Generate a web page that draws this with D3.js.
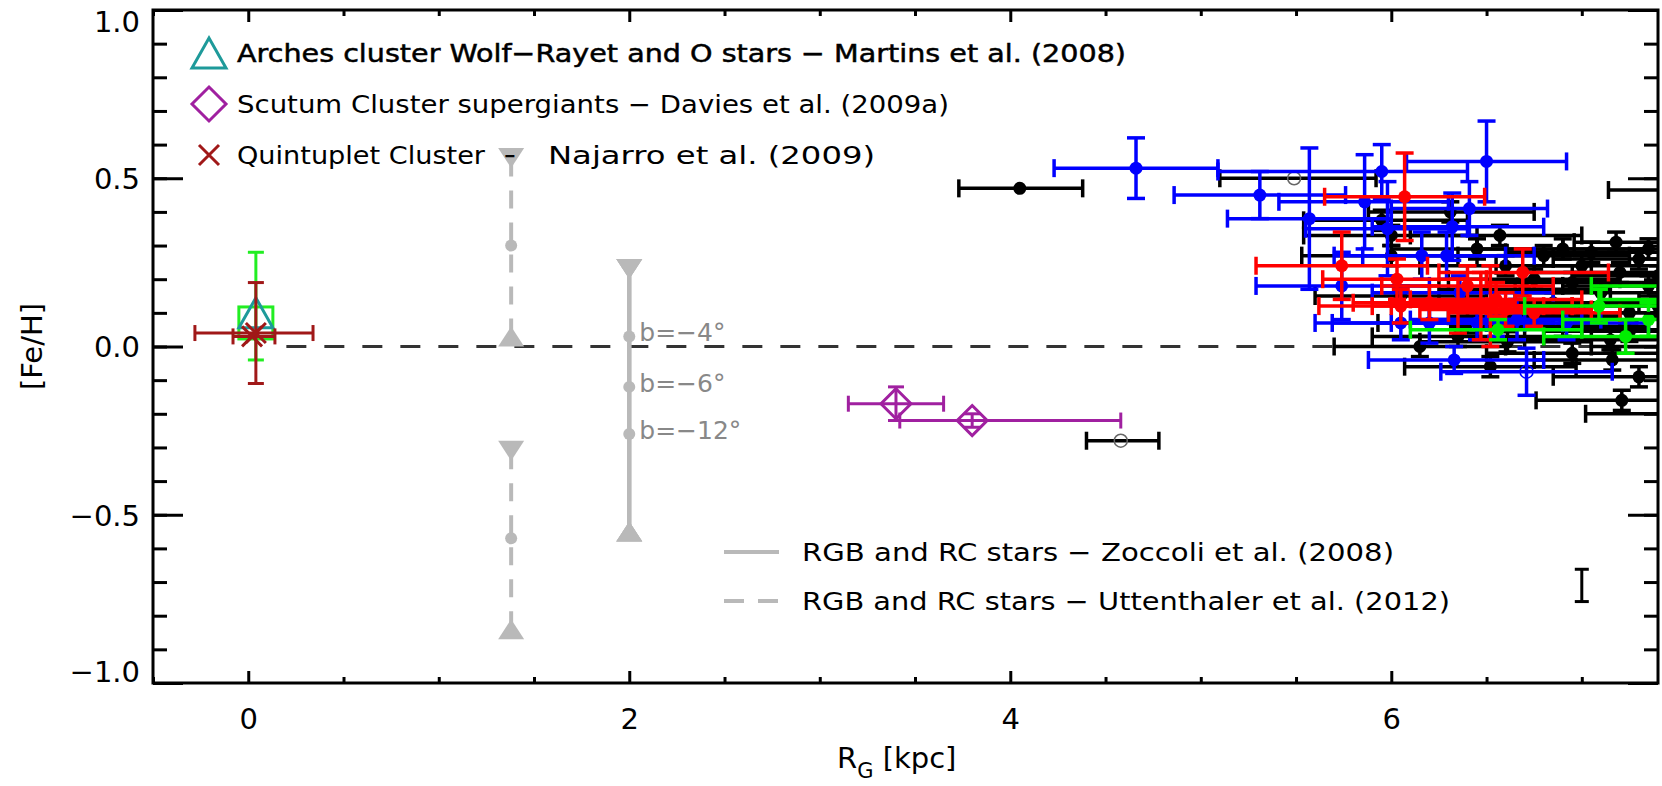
<!DOCTYPE html>
<html>
<head>
<meta charset="utf-8">
<script src="https://cdn.jsdelivr.net/npm/d3@7"></script>
<style>
body { margin: 0; background: #fff; }
svg text { font-family: "DejaVu Sans", "Liberation Sans", sans-serif; }
</style>
</head>
<body>
<div id="chart"></div>
<script>
const width = 1662, height = 786

// ---- data: [R_G, [Fe/H], R low, R high, +/- [Fe/H]] ----
const blackFilled = [
  [4.05, 0.47, 3.73, 4.38, 0],
  [6.31, 0.40, 5.88, 6.75, 0.03],
  [5.95, 0.375, 5.54, 6.40, 0.03],
  [6.00, 0.33, 5.54, 6.45, 0.03],
  [6.57, 0.33, 6.10, 7.00, 0.03],
  [7.18, 0.31, 6.96, 7.45, 0.03],
  [7.60, 0.465, 7.14, 8.00, 0.03],
  [6.00, 0.27, 5.53, 6.45, 0.03],
  [6.45, 0.29, 6.00, 6.90, 0.03],
  [6.90, 0.29, 6.45, 7.35, 0.03],
  [7.35, 0.29, 6.90, 7.80, 0.03],
  [7.05, 0.28, 6.60, 7.50, 0.03],
  [6.80, 0.27, 6.35, 7.25, 0.03],
  [7.30, 0.26, 6.85, 7.75, 0.03],
  [6.60, 0.24, 6.15, 7.05, 0.03],
  [7.00, 0.24, 6.55, 7.45, 0.03],
  [7.20, 0.22, 6.75, 7.65, 0.03],
  [7.40, 0.21, 6.95, 7.85, 0.03],
  [6.75, 0.20, 6.30, 7.20, 0.03],
  [6.95, 0.19, 6.50, 7.40, 0.03],
  [7.35, 0.18, 6.90, 7.80, 0.03],
  [6.70, 0.17, 6.25, 7.15, 0.03],
  [7.10, 0.16, 6.65, 7.55, 0.03],
  [6.05, 0.15, 5.60, 6.50, 0.03],
  [6.85, 0.13, 6.40, 7.30, 0.03],
  [7.40, 0.12, 6.95, 7.85, 0.03],
  [7.25, 0.10, 6.80, 7.70, 0.03],
  [7.00, 0.10, 6.55, 7.45, 0.03],
  [6.75, 0.09, 6.30, 7.20, 0.03],
  [6.40, 0.07, 5.93, 6.85, 0.03],
  [6.90, 0.06, 6.45, 7.35, 0.03],
  [7.45, 0.05, 7.00, 7.90, 0.03],
  [7.25, 0.045, 6.80, 7.70, 0.03],
  [6.35, 0.03, 5.90, 6.80, 0.03],
  [7.15, 0.02, 6.70, 7.60, 0.03],
  [6.61, 0.014, 6.15, 7.05, 0.03],
  [6.15, 0.00, 5.70, 6.60, 0.03],
  [7.50, 0.00, 7.05, 7.95, 0.03],
  [6.95, -0.02, 6.50, 7.40, 0.03],
  [7.16, -0.04, 6.75, 7.60, 0.03],
  [6.52, -0.06, 6.07, 6.97, 0.03],
  [7.30, -0.09, 6.85, 7.75, 0.03],
  [7.21, -0.16, 6.76, 7.65, 0.03],
  [7.50, -0.20, 7.02, 8.00, 0.03]
]
const blackOpen = [
  [5.49, 0.50, 5.10, 5.92, 0],
  [4.58, -0.28, 4.40, 4.78, 0]
]
const blueFilled = [
  [4.66, 0.53, 4.23, 5.09, 0.09],
  [5.31, 0.45, 4.86, 5.76, 0.07],
  [5.57, 0.38, 5.14, 6.00, 0.21],
  [5.95, 0.52, 5.09, 6.40, 0.08],
  [5.86, 0.43, 5.41, 6.30, 0.14],
  [5.98, 0.35, 5.55, 6.40, 0.14],
  [6.50, 0.55, 6.08, 6.92, 0.12],
  [6.41, 0.41, 6.00, 6.82, 0.08],
  [6.32, 0.356, 5.90, 6.80, 0.10],
  [6.16, 0.27, 5.70, 6.60, 0.07],
  [6.29, 0.27, 5.85, 6.75, 0.07],
  [5.74, 0.18, 5.29, 6.20, 0.10],
  [6.36, 0.16, 5.90, 6.85, 0.05],
  [6.05, 0.07, 5.60, 6.50, 0.05],
  [6.20, 0.07, 5.69, 6.70, 0.06],
  [6.45, 0.07, 6.00, 6.90, 0.05],
  [6.55, 0.08, 6.10, 7.00, 0.05],
  [6.66, 0.08, 6.20, 7.10, 0.06],
  [6.92, 0.07, 6.50, 7.35, 0.05],
  [6.33, -0.04, 5.88, 6.80, 0.04]
]
const blueOpen = [
  [6.71, -0.075, 6.26, 7.16, 0.07]
]
const redFilled = [
  [6.07, 0.445, 5.65, 6.49, 0.13],
  [5.74, 0.24, 5.29, 6.19, 0.10],
  [6.03, 0.20, 5.64, 6.50, 0.06],
  [6.69, 0.22, 6.25, 7.14, 0.07],
  [6.40, 0.18, 5.95, 6.85, 0.06],
  [6.55, 0.14, 6.10, 7.00, 0.05],
  [6.20, 0.13, 5.80, 6.65, 0.05],
  [6.47, 0.12, 6.00, 6.95, 0.10],
  [6.52, 0.12, 6.05, 6.95, 0.12],
  [6.05, 0.12, 5.62, 6.50, 0.05],
  [6.35, 0.12, 5.90, 6.80, 0.08],
  [6.60, 0.11, 6.15, 7.05, 0.05],
  [6.75, 0.10, 6.30, 7.20, 0.04]
]
const greenFilled = [
  [7.09, 0.12, 6.70, 7.50, 0.05],
  [7.23, 0.03, 6.80, 7.70, 0.05],
  [7.35, 0.08, 6.90, 7.80, 0.05],
  [7.60, 0.18, 7.05, 8.10, 0.03],
  [7.55, 0.14, 7.10, 8.00, 0.03],
  [6.56, 0.05, 6.10, 7.00, 0.03]
]
// Galactic centre clusters
const gcGreen = [[0.04, 0.07, -0.04, 0.28]]     // square, [Fe/H] range
const arches = [[0.04, 0.10]]
const quintuplet = [[0.04, 0.04, -0.28, 0.34, -0.11, 0.19], [0.02, 0.03, -0.08, 0.14, 0, 0]]
const scutum = [[3.40, -0.17, 3.15, 3.65, 0.05], [3.80, -0.22, 3.42, 4.58, 0.02]]
// bulge fields: [R_G, lower limit, mean, upper limit]
const zoccoli = [[2.0, -0.55, 0.03, 0.23], [2.0, -0.55, -0.12, 0.23], [2.0, -0.55, -0.26, 0.23]]
const zoccoliLabels = ["b=−4°", "b=−6°", "b=−12°"]
const uttenthaler = [[1.38, 0.03, 0.30, 0.56], [1.38, -0.84, -0.57, -0.31]]
const typicalError = [[7.0, -0.71, 0.048]]

const xMajor = [0, 2, 4, 6]
const xMinor = [-0.5, 0.5, 1, 1.5, 2.5, 3, 3.5, 4.5, 5, 5.5, 6.5, 7]
const yMajor = [-1, -0.5, 0, 0.5, 1]
const yMinor = d3.range(-10, 11).map(d => d / 10)

// legend pieces: [text, start x, width]
const legendTop = [
  [["Arches cluster Wolf−Rayet and O stars − Martins et al. (2008)", 237, 889]],
  [["Scutum Cluster supergiants − Davies et al. (2009a)", 237, 712]],
  [["Quintuplet Cluster", 237, 248], ["−", 504, 12], ["Najarro et al. (2009)", 548, 327]]
]
const legendBottom = [
  {label: "RGB and RC stars − Zoccoli et al. (2008)", w: 592, dash: null},
  {label: "RGB and RC stars − Uttenthaler et al. (2012)", w: 648, dash: "20,14"}
]

const x = d3.scaleLinear().domain([-0.5, 7.4]).range([153, 1658])
const y = d3.scaleLinear().domain([-1, 1]).range([683, 10])

const svg = d3.select("#chart").append("svg")
  .attr("width", width).attr("height", height)

svg.append("defs").append("clipPath").attr("id", "plotclip")
  .append("rect").attr("x", x(-0.5)).attr("y", y(1))
  .attr("width", x(7.4) - x(-0.5)).attr("height", y(-1) - y(1))

const plot = svg.append("g").attr("clip-path", "url(#plotclip)")

const gray = "#b9b9b9"

function triPath(cx, cy, w, h, down) {
  const s = down ? -1 : 1
  return `M${cx - w / 2},${cy + s * h / 2}L${cx + w / 2},${cy + s * h / 2}L${cx},${cy - s * h / 2}Z`
}

// legend text first, the bulge markers sit on top of it
const lg = svg.append("g")
legendTop.forEach((pieces, i) => {
  const cy = 53 + i * 51
  pieces.forEach(p => {
    lg.append("text").attr("x", p[1]).attr("y", cy + 9).attr("font-size", 25)
      .attr("textLength", p[2]).attr("lengthAdjust", "spacingAndGlyphs")
      .attr("stroke", i === 0 ? "#000" : "none").attr("stroke-width", 0.5)
      .text(p[0])
  })
})
lg.append("path").attr("d", triPath(209, 53, 34, 30, false)).attr("fill", "none").attr("stroke", "#1e9a9a").attr("stroke-width", 3)
lg.append("path").attr("d", "M209,87L226,104L209,121L192,104Z").attr("fill", "none").attr("stroke", "#a020a0").attr("stroke-width", 3)
lg.append("path").attr("d", "M199,145L219,165M199,165L219,145").attr("stroke", "#a01818").attr("stroke-width", 3)

// zero line
plot.append("line")
  .attr("x1", x(0.2)).attr("x2", x(7.4)).attr("y1", y(0)).attr("y2", y(0))
  .attr("stroke", "#333").attr("stroke-width", 3).attr("stroke-dasharray", "20,18")

// bulge ranges
function bulge(rows, dash) {
  const g = plot.append("g")
  g.selectAll("line").data(rows).join("line")
    .attr("x1", d => x(d[0])).attr("x2", d => x(d[0]))
    .attr("y1", d => y(d[1])).attr("y2", d => y(d[3]))
    .attr("stroke", gray).attr("stroke-width", 4)
    .attr("stroke-dasharray", dash)
  g.selectAll("path.up").data(rows).join("path").attr("class", "up")
    .attr("d", d => triPath(x(d[0]), y(d[1]), 26, 20, false)).attr("fill", gray)
  g.selectAll("path.dn").data(rows).join("path").attr("class", "dn")
    .attr("d", d => triPath(x(d[0]), y(d[3]), 26, 20, true)).attr("fill", gray)
  g.selectAll("circle").data(rows).join("circle")
    .attr("cx", d => x(d[0])).attr("cy", d => y(d[2])).attr("r", 6).attr("fill", gray)
}
bulge(uttenthaler, "18,14")
bulge(zoccoli, null)

svg.append("g").selectAll("text").data(zoccoli).join("text")
  .attr("x", d => x(d[0]) + 10).attr("y", d => y(d[2]) + 5)
  .attr("font-size", 25).attr("fill", "#888")
  .text((d, i) => zoccoliLabels[i])

// error-bar star samples
function stars(rows, color, opts = {}) {
  const g = plot.append("g").attr("stroke", color).attr("stroke-width", 3.5)
  const cap = 9
  g.selectAll("line.h").data(rows).join("line").attr("class", "h")
    .attr("x1", d => x(d[2])).attr("x2", d => x(d[3])).attr("y1", d => y(d[1])).attr("y2", d => y(d[1]))
  g.selectAll("line.hl").data(rows).join("line").attr("class", "hl")
    .attr("x1", d => x(d[2])).attr("x2", d => x(d[2])).attr("y1", d => y(d[1]) - cap).attr("y2", d => y(d[1]) + cap)
  g.selectAll("line.hr").data(rows).join("line").attr("class", "hr")
    .attr("x1", d => x(d[3])).attr("x2", d => x(d[3])).attr("y1", d => y(d[1]) - cap).attr("y2", d => y(d[1]) + cap)
  const v = rows.filter(d => d[4] > 0)
  g.selectAll("line.v").data(v).join("line").attr("class", "v")
    .attr("x1", d => x(d[0])).attr("x2", d => x(d[0])).attr("y1", d => y(d[1] - d[4])).attr("y2", d => y(d[1] + d[4]))
  g.selectAll("line.vt").data(v).join("line").attr("class", "vt")
    .attr("x1", d => x(d[0]) - cap).attr("x2", d => x(d[0]) + cap).attr("y1", d => y(d[1] + d[4])).attr("y2", d => y(d[1] + d[4]))
  g.selectAll("line.vb").data(v).join("line").attr("class", "vb")
    .attr("x1", d => x(d[0]) - cap).attr("x2", d => x(d[0]) + cap).attr("y1", d => y(d[1] - d[4])).attr("y2", d => y(d[1] - d[4]))
  g.selectAll("circle").data(rows).join("circle")
    .attr("cx", d => x(d[0])).attr("cy", d => y(d[1])).attr("r", 6.5)
    .attr("stroke", opts.open ? (opts.ring || color) : "none")
    .attr("stroke-width", 1.5)
    .attr("fill", opts.open ? "none" : color)
}
stars(blackFilled, "#000")
stars(blackOpen, "#000", {open: true, ring: "#666"})
stars(blueFilled, "#0000ff")
stars(blueOpen, "#0000ff", {open: true})
stars(redFilled, "#ff0000")
stars(greenFilled, "#00ee00")

// Scutum cluster
const sc = plot.append("g").attr("stroke", "#a020a0").attr("stroke-width", 3).attr("fill", "none")
scutum.forEach(d => {
  sc.append("line").attr("x1", x(d[2])).attr("x2", x(d[3])).attr("y1", y(d[1])).attr("y2", y(d[1]))
  ;[d[2], d[3]].forEach(e => sc.append("line").attr("x1", x(e)).attr("x2", x(e)).attr("y1", y(d[1]) - 8).attr("y2", y(d[1]) + 8))
  sc.append("line").attr("x1", x(d[0])).attr("x2", x(d[0])).attr("y1", y(d[1] - d[4])).attr("y2", y(d[1] + d[4]))
  ;[d[1] - d[4], d[1] + d[4]].forEach(e => sc.append("line").attr("x1", x(d[0]) - 8).attr("x2", x(d[0]) + 8).attr("y1", y(e)).attr("y2", y(e)))
  sc.append("path").attr("d", `M${x(d[0])},${y(d[1]) - 15}L${x(d[0]) + 15},${y(d[1])}L${x(d[0])},${y(d[1]) + 15}L${x(d[0]) - 15},${y(d[1])}Z`)
})

// Galactic centre
const gc = plot.append("g").attr("fill", "none").attr("stroke-width", 3)
gcGreen.forEach(d => {
  gc.append("line").attr("stroke", "#22ee22").attr("x1", x(d[0])).attr("x2", x(d[0])).attr("y1", y(d[2])).attr("y2", y(d[3]))
  ;[d[2], d[3]].forEach(e => gc.append("line").attr("stroke", "#22ee22").attr("x1", x(d[0]) - 8).attr("x2", x(d[0]) + 8).attr("y1", y(e)).attr("y2", y(e)))
  gc.append("rect").attr("stroke", "#22ee22").attr("x", x(d[0]) - 17).attr("y", y(d[1]) - 16).attr("width", 34).attr("height", 32)
})
arches.forEach(d => {
  gc.append("path").attr("stroke", "#1e9a9a").attr("d", triPath(x(d[0]), y(d[1]), 34, 30, false))
})
quintuplet.forEach(d => {
  const c = "#a01818"
  gc.append("line").attr("stroke", c).attr("x1", x(d[2])).attr("x2", x(d[3])).attr("y1", y(d[1])).attr("y2", y(d[1]))
  ;[d[2], d[3]].forEach(e => gc.append("line").attr("stroke", c).attr("x1", x(e)).attr("x2", x(e)).attr("y1", y(d[1]) - 8).attr("y2", y(d[1]) + 8))
  if (d[5] > d[4]) {
    gc.append("line").attr("stroke", c).attr("x1", x(d[0])).attr("x2", x(d[0])).attr("y1", y(d[4])).attr("y2", y(d[5]))
    ;[d[4], d[5]].forEach(e => gc.append("line").attr("stroke", c).attr("x1", x(d[0]) - 8).attr("x2", x(d[0]) + 8).attr("y1", y(e)).attr("y2", y(e)))
  }
  gc.append("path").attr("stroke", c)
    .attr("d", `M${x(d[0]) - 10},${y(d[1]) - 10}L${x(d[0]) + 10},${y(d[1]) + 10}M${x(d[0]) - 10},${y(d[1]) + 10}L${x(d[0]) + 10},${y(d[1]) - 10}`)
})

// typical error
typicalError.forEach(d => {
  const g = plot.append("g").attr("stroke", "#000").attr("stroke-width", 3)
  g.append("line").attr("x1", x(d[0])).attr("x2", x(d[0])).attr("y1", y(d[1] - d[2])).attr("y2", y(d[1] + d[2]))
  ;[d[1] - d[2], d[1] + d[2]].forEach(e => g.append("line").attr("x1", x(d[0]) - 7).attr("x2", x(d[0]) + 7).attr("y1", y(e)).attr("y2", y(e)))
})

// ---- axes ----
function styleAxis(g) {
  g.select(".domain").remove()
  g.selectAll("line").attr("stroke", "#000").attr("stroke-width", 3)
  g.selectAll("text").attr("font-size", 29).attr("fill", "#000").attr("font-family", "DejaVu Sans, sans-serif")
}
svg.append("g").attr("transform", `translate(0,${y(-1)})`)
  .call(d3.axisBottom(x).tickValues(xMajor).tickSize(-12).tickPadding(25).tickFormat(d3.format("d"))).call(styleAxis)
svg.append("g").attr("transform", `translate(0,${y(-1)})`)
  .call(d3.axisBottom(x).tickValues(xMinor).tickSize(-6).tickFormat("")).call(styleAxis)
svg.append("g").attr("transform", `translate(0,${y(1)})`)
  .call(d3.axisTop(x).tickValues(xMajor).tickSize(-12).tickFormat("")).call(styleAxis)
svg.append("g").attr("transform", `translate(0,${y(1)})`)
  .call(d3.axisTop(x).tickValues(xMinor).tickSize(-6).tickFormat("")).call(styleAxis)

const yl = svg.append("g").attr("transform", `translate(${x(-0.5)},0)`)
  .call(d3.axisLeft(y).tickValues(yMajor).tickSize(-30).tickPadding(13).tickFormat(d3.format(".1f"))).call(styleAxis)
yl.selectAll(".tick text").attr("dy", d => d === 1 ? "0.75em" : d === -1 ? "-0.05em" : "0.36em")
svg.append("g").attr("transform", `translate(${x(-0.5)},0)`)
  .call(d3.axisLeft(y).tickValues(yMinor).tickSize(-14).tickFormat("")).call(styleAxis)
svg.append("g").attr("transform", `translate(${x(7.4)},0)`)
  .call(d3.axisRight(y).tickValues(yMajor).tickSize(-30).tickFormat("")).call(styleAxis)
svg.append("g").attr("transform", `translate(${x(7.4)},0)`)
  .call(d3.axisRight(y).tickValues(yMinor).tickSize(-14).tickFormat("")).call(styleAxis)

svg.append("rect")
  .attr("x", x(-0.5)).attr("y", y(1)).attr("width", x(7.4) - x(-0.5)).attr("height", y(-1) - y(1))
  .attr("fill", "none").attr("stroke", "#000").attr("stroke-width", 3)

// axis titles
const xt = svg.append("text").attr("x", 837).attr("y", 768).attr("font-size", 29)
xt.append("tspan").text("R")
xt.append("tspan").attr("font-size", 21).attr("dy", 10).text("G")
xt.append("tspan").attr("dy", -10).text(" [kpc]")

svg.append("text").attr("transform", `translate(42,${y(0)}) rotate(-90)`)
  .attr("text-anchor", "middle").attr("font-size", 29).text("[Fe/H]")

legendBottom.forEach((d, i) => {
  const cy = 552 + i * 49
  lg.append("line").attr("x1", 724).attr("x2", 779).attr("y1", cy).attr("y2", cy)
    .attr("stroke", gray).attr("stroke-width", 4).attr("stroke-dasharray", d.dash)
  lg.append("text").attr("x", 802).attr("y", cy + 9).attr("font-size", 25)
    .attr("textLength", d.w).attr("lengthAdjust", "spacingAndGlyphs")
    .text(d.label)
})
</script>
</body>
</html>
